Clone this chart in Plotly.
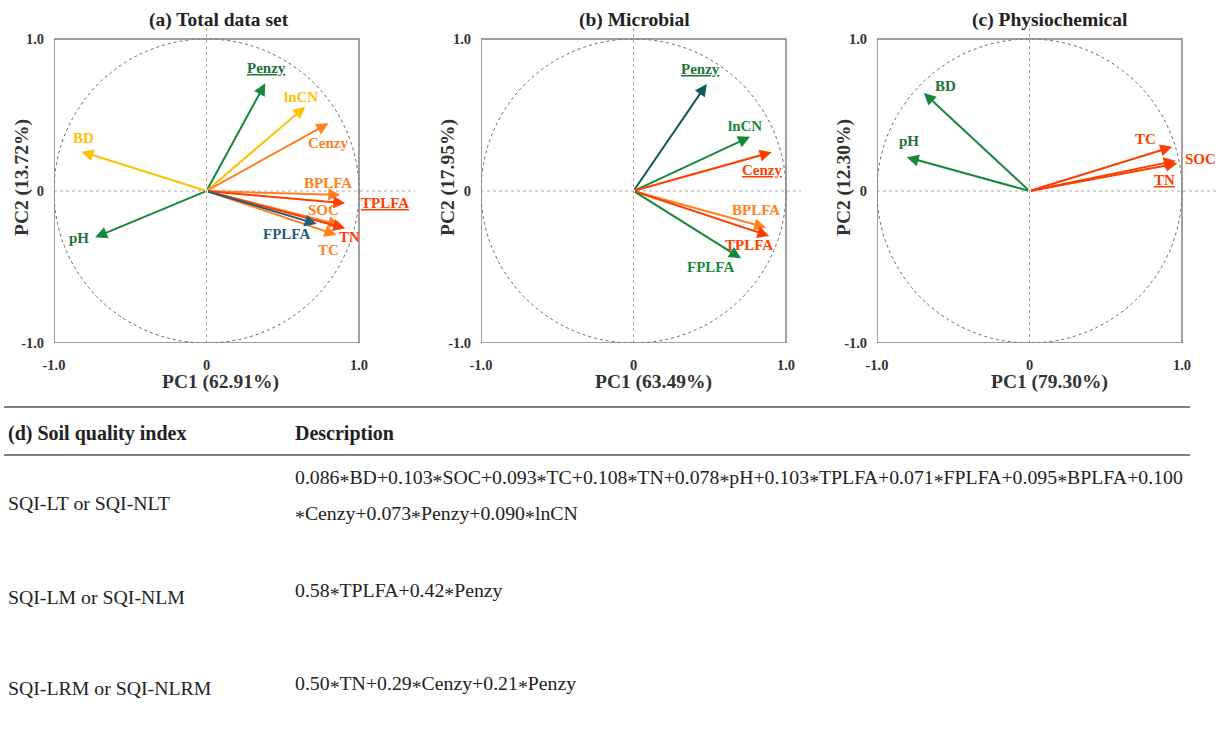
import plotly.graph_objects as go

# ---------------- data ----------------
# (a) Total data set
a_vars = ["Penzy", "lnCN", "Cenzy", "BD", "pH", "BPLFA", "TPLFA", "SOC", "TN", "TC", "FPLFA"]
a_pc1 = [0.385, 0.647, 0.800, -0.820, -0.730, 0.877, 0.910, 0.877, 0.910, 0.852, 0.723]
a_pc2 = [0.709, 0.555, 0.445, 0.259, -0.305, -0.026, -0.081, -0.224, -0.245, -0.289, -0.217]
a_var_pct = ["62.91%", "13.72%"]

# (b) Microbial
b_vars = ["Penzy", "lnCN", "Cenzy", "BPLFA", "TPLFA", "FPLFA"]
b_pc1 = [0.480, 0.764, 0.906, 0.870, 0.890, 0.705]
b_pc2 = [0.704, 0.357, 0.255, -0.241, -0.296, -0.443]
b_var_pct = ["63.49%", "17.95%"]

# (c) Physiochemical
c_vars = ["BD", "pH", "TC", "SOC", "TN"]
c_pc1 = [-0.693, -0.805, 0.936, 0.959, 0.970]
c_pc2 = [0.645, 0.222, 0.291, 0.199, 0.182]
c_var_pct = ["79.30%", "12.30%"]

titles = ["(a) Total data set", "(b) Microbial", "(c) Physiochemical"]
tick_vals = [-1, 0, 1]
tick_text = ["-1.0", "0", "1.0"]

# (d) table
table_header = ["(d) Soil quality index", "Description"]
sqi_names = ["SQI-LT or SQI-NLT", "SQI-LM or SQI-NLM", "SQI-LRM or SQI-NLRM"]
sqi_desc = [
    ["0.086*BD+0.103*SOC+0.093*TC+0.108*TN+0.078*pH+0.103*TPLFA+0.071*FPLFA+0.095*BPLFA+0.100",
     "*Cenzy+0.073*Penzy+0.090*lnCN"],
    ["0.58*TPLFA+0.42*Penzy"],
    ["0.50*TN+0.29*Cenzy+0.21*Penzy"],
]

# ---------------- styles ----------------
GREEN = "#17883A"
GREEN_T = "#1B7436"
GOLD = "#FFC000"
ORANGE = "#FF8122"
RED = "#FF3D00"
BLUE = "#1F5E7C"
TEAL = "#0C5C58"
FONT = "Liberation Serif"
W, H = 1219, 729

# arrow color, label color, label shift (dx, dy px), underline
a_style = {
    "Penzy": (GREEN, GREEN_T, 1, 15, True),
    "lnCN": (GOLD, GOLD, -4, 10, False),
    "Cenzy": (ORANGE, ORANGE, -1, -20, False),
    "BD": (GOLD, GOLD, 2, 14, False),
    "pH": (GREEN, GREEN_T, -16, -1, False),
    "BPLFA": (ORANGE, ORANGE, -12, 12, False),
    "TPLFA": (RED, RED, 40, 0, True),
    "SOC": (ORANGE, ORANGE, -17, 15, False),
    "TN": (RED, RED, 4, -9, False),
    "TC": (ORANGE, ORANGE, -8, -15, False),
    "FPLFA": (BLUE, BLUE, -30, -10, False),
}
b_style = {
    "Penzy": (TEAL, GREEN_T, -6, 15, True),
    "lnCN": (GREEN, GREEN, -5, 11, False),
    "Cenzy": (RED, RED, -10, -18, True),
    "BPLFA": (ORANGE, ORANGE, -10, 18, False),
    "TPLFA": (RED, RED, -20, -9, False),
    "FPLFA": (GREEN, GREEN, -31, -9, False),
}
c_style = {
    "BD": (GREEN, GREEN_T, 22, 7, False),
    "pH": (GREEN, GREEN_T, 2, 16, False),
    "TC": (RED, RED, -27, 8, False),
    "SOC": (RED, RED, 25, 2, False),
    "TN": (RED, RED, -13, -17, True),
}

# panel geometry in pixels
panels = [
    dict(left=54, xr=1.37, title_x=219, x_title_x=220, y_title_x=22),
    dict(left=481, xr=1.10, title_x=634, x_title_x=654, y_title_x=448),
    dict(left=877, xr=1.24, title_x=1050, x_title_x=1049, y_title_x=844),
]
PPU = 152.5
BOX_TOP, BOX_BOTTOM = 39, 343
YR = (BOX_BOTTOM - 28) / ((BOX_BOTTOM - BOX_TOP) / 2) - 1
LABEL_SIZE = 15
TICK_FONT = dict(family=FONT, size=14.5, color="#333333", weight="bold")

def px(x):
    return x / W

def py(y):
    return 1 - y / H

fig = go.Figure()
annotations = []
shapes = []
layout_axes = {}

datasets = [
    (a_vars, a_pc1, a_pc2, a_var_pct, a_style),
    (b_vars, b_pc1, b_pc2, b_var_pct, b_style),
    (c_vars, c_pc1, c_pc2, c_var_pct, c_style),
]

for i, (p, (vars_, pc1, pc2, pct, style)) in enumerate(zip(panels, datasets)):
    n = "" if i == 0 else str(i + 1)
    xa, ya = "x" + n, "y" + n
    x_end = p["left"] + (p["xr"] + 1) * PPU
    layout_axes["xaxis" + n] = dict(
        domain=[px(p["left"]), min(1, px(x_end))], range=[-1, p["xr"]], anchor=ya,
        tickvals=tick_vals, ticktext=tick_text, showgrid=False, zeroline=False,
        showline=False, ticks="outside", ticklen=9, tickcolor="rgba(0,0,0,0)",
        tickfont=TICK_FONT, automargin=False, fixedrange=True,
    )
    layout_axes["yaxis" + n] = dict(
        domain=[py(BOX_BOTTOM), py(28)], range=[-1, YR], anchor=xa,
        tickvals=tick_vals, ticktext=tick_text, showgrid=False, zeroline=False,
        showline=False, ticks="outside", ticklen=6, tickcolor="rgba(0,0,0,0)",
        tickfont=TICK_FONT, automargin=False, fixedrange=True,
    )
    fig.add_trace(go.Scatter(x=pc1, y=pc2, mode="markers", marker=dict(opacity=0),
                             xaxis=xa, yaxis=ya, showlegend=False, hoverinfo="skip"))
    # zero lines
    shapes.append(dict(type="line", xref=xa, yref=ya, x0=-1, x1=p["xr"], y0=0, y1=0,
                       line=dict(color="#AAAAAA", width=1, dash="dot"), layer="below"))
    shapes.append(dict(type="line", xref=xa, yref=ya, x0=0, x1=0, y0=-1, y1=YR,
                       line=dict(color="#AAAAAA", width=1, dash="dot"), layer="below"))
    # circle
    shapes.append(dict(type="circle", xref=xa, yref=ya, x0=-1, x1=1, y0=-1, y1=1,
                       line=dict(color="#666666", width=1, dash="dot"), layer="below"))
    # box
    shapes.append(dict(type="rect", xref=xa, yref=ya, x0=-1, x1=1, y0=-1, y1=1,
                       line=dict(color="#808080", width=1.5), layer="below"))
    # arrows and labels
    for v, x, y in zip(vars_, pc1, pc2):
        ac, lc, dx, dy, ul = style[v]
        annotations.append(dict(x=x, y=y, ax=0, ay=0, xref=xa, yref=ya, axref=xa, ayref=ya,
                                text="", showarrow=True, arrowhead=2, arrowsize=1.2,
                                arrowwidth=2, arrowcolor=ac))
        annotations.append(dict(x=x, y=y, xref=xa, yref=ya, text=v, showarrow=False,
                                xshift=dx, yshift=dy, xanchor="center", yanchor="middle",
                                font=dict(family=FONT, size=LABEL_SIZE, color=lc, weight="bold",
                                          lineposition="under" if ul else "none")))
    # titles
    annotations.append(dict(x=px(p["title_x"]), y=py(20), xref="paper", yref="paper",
                            text=titles[i], showarrow=False, xanchor="center", yanchor="middle",
                            font=dict(family=FONT, size=19.5, color="#222222", weight="bold")))
    annotations.append(dict(x=px(p["x_title_x"]), y=py(382), xref="paper", yref="paper",
                            text="PC1 (" + pct[0] + ")", showarrow=False, xanchor="center",
                            yanchor="middle",
                            font=dict(family=FONT, size=19.5, color="#333333", weight="bold")))
    annotations.append(dict(x=px(p["y_title_x"]), y=py(178), xref="paper", yref="paper",
                            text="PC2 (" + pct[1] + ")", showarrow=False, xanchor="center",
                            yanchor="middle", textangle=-90,
                            font=dict(family=FONT, size=19.5, color="#333333", weight="bold")))

# ---------------- table (d) ----------------
TX0, TX1 = 6, 1190
for yline in (407, 455):
    shapes.append(dict(type="line", xref="paper", yref="paper", x0=px(4), x1=px(TX1),
                       y0=py(yline), y1=py(yline), line=dict(color="#555555", width=1.5)))

STAR = '<span style="baseline-shift:-0.22em">*</span>'

def fmt(s):
    return s.replace("*", STAR)

hdr_font = dict(family=FONT, size=20, color="#222222", weight="bold")
txt_font = dict(family=FONT, size=19.8, color="#222222")
annotations.append(dict(x=px(TX0), y=py(433), xref="paper", yref="paper", text=table_header[0],
                        showarrow=False, xanchor="left", yanchor="middle", font=hdr_font))
annotations.append(dict(x=px(293), y=py(433), xref="paper", yref="paper", text=table_header[1],
                        showarrow=False, xanchor="left", yanchor="middle", font=hdr_font))

row_name_y = [503, 597, 688]
row_desc_y = [[479, 515], [592], [685]]
for name, ny, descs, dys in zip(sqi_names, row_name_y, sqi_desc, row_desc_y):
    annotations.append(dict(x=px(TX0), y=py(ny), xref="paper", yref="paper", text=name,
                            showarrow=False, xanchor="left", yanchor="middle", font=txt_font))
    for d, dy in zip(descs, dys):
        annotations.append(dict(x=px(293), y=py(dy), xref="paper", yref="paper", text=fmt(d),
                                showarrow=False, xanchor="left", yanchor="middle", font=txt_font))

fig.update_layout(
    width=W, height=H, margin=dict(l=0, r=0, t=0, b=0, autoexpand=False),
    paper_bgcolor="white", plot_bgcolor="white",
    annotations=annotations, shapes=shapes, showlegend=False,
    **layout_axes,
)

fig.write_html("out.html", config={"displayModeBar": False})
